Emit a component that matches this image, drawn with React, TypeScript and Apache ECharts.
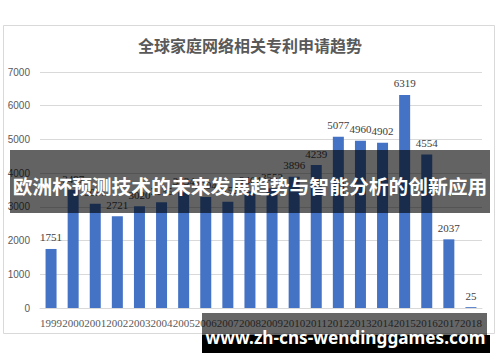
import React, { useEffect, useRef } from 'react';
import * as echarts from 'echarts';

// Global home-network patent applications per year
const years = [
  '1999', '2000', '2001', '2002', '2003', '2004', '2005', '2006', '2007', '2008',
  '2009', '2010', '2011', '2012', '2013', '2014', '2015', '2016', '2017', '2018',
];
const applications = [
  1751, 3497, 3091, 2721, 3020, 3135, 3434, 3294, 3155, 3464,
  3553, 3896, 4239, 5077, 4960, 4902, 6319, 4554, 2037, 25,
];
const yMax = 7000;
const yStep = 1000;

const chartTitle = '全球家庭网络相关专利申请趋势';
const bannerText = '欧洲杯预测技术的未来发展趋势与智能分析的创新应用';
const siteText = 'www.zh-cns-wendinggames.com';

export default function App() {
  const ref = useRef<HTMLDivElement>(null);

  useEffect(() => {
    if (!ref.current) return;
    const chart = echarts.init(ref.current, null, { renderer: 'svg' });
    chart.setOption({
      animation: false,
      backgroundColor: '#ffffff',
      title: {
        text: chartTitle,
        left: 'center',
        top: 37,
        padding: 0,
        textStyle: {
          fontFamily: 'Noto Sans CJK SC',
          fontSize: 16,
          fontWeight: 'bold',
          color: '#595959',
        },
      },
      grid: { left: 40, right: 18, top: 72, bottom: 54 },
      xAxis: {
        type: 'category',
        data: years,
        axisLine: { lineStyle: { color: '#d9d9d9' } },
        axisTick: { show: false },
        axisLabel: {
          interval: 0,
          margin: 9,
          fontFamily: 'Liberation Serif',
          fontSize: 11,
          color: '#595959',
        },
      },
      yAxis: {
        type: 'value',
        min: 0,
        max: yMax,
        interval: yStep,
        axisLine: { show: false },
        axisTick: { show: false },
        splitLine: { lineStyle: { color: '#d9d9d9' } },
        axisLabel: {
          margin: 10,
          formatter: (v: number) => String(v),
          fontFamily: 'Liberation Sans',
          fontSize: 10,
          color: '#595959',
        },
      },
      series: [
        {
          type: 'bar',
          data: applications,
          barWidth: 11,
          itemStyle: { color: '#4472C4' },
          label: {
            show: true,
            position: 'top',
            distance: 6,
            fontFamily: 'Liberation Serif',
            fontSize: 11,
            color: '#404040',
          },
        },
      ],
      graphic: [
        {
          type: 'rect',
          z: 50,
          silent: true,
          shape: { x: 3.5, y: 25.5, width: 491, height: 308 },
          style: { fill: 'none', stroke: '#d9d9d9', lineWidth: 1 },
        },
        {
          type: 'rect',
          z: 100,
          silent: true,
          shape: { x: 10, y: 150, width: 480, height: 63 },
          style: { fill: 'rgba(0,0,0,0.61)' },
        },
        {
          type: 'text',
          z: 101,
          silent: true,
          x: 250,
          y: 185,
          style: {
            text: bannerText,
            fill: '#ffffff',
            fontFamily: 'Noto Sans CJK SC',
            fontWeight: 'bold',
            fontSize: 19.8,
            align: 'center',
            verticalAlign: 'middle',
          },
        },
        {
          type: 'rect',
          z: 100,
          silent: true,
          shape: { x: 202, y: 313, width: 285, height: 22 },
          style: { fill: 'rgba(0,0,0,0.6)' },
        },
        {
          type: 'rect',
          z: 100,
          silent: true,
          shape: { x: 202, y: 335, width: 288, height: 18 },
          style: { fill: '#000000' },
        },
        {
          type: 'text',
          z: 101,
          silent: true,
          x: 345.5,
          y: 337,
          style: {
            text: siteText,
            fill: '#ffffff',
            fontFamily: 'Noto Sans',
            fontWeight: 'bold',
            fontSize: 17.2,
            align: 'center',
            verticalAlign: 'middle',
          },
        },
      ],
    });
    return () => chart.dispose();
  }, []);

  return (
    <div
      ref={ref}
      style={{ position: 'fixed', left: 0, top: 0, width: 500, height: 362 }}
    />
  );
}
